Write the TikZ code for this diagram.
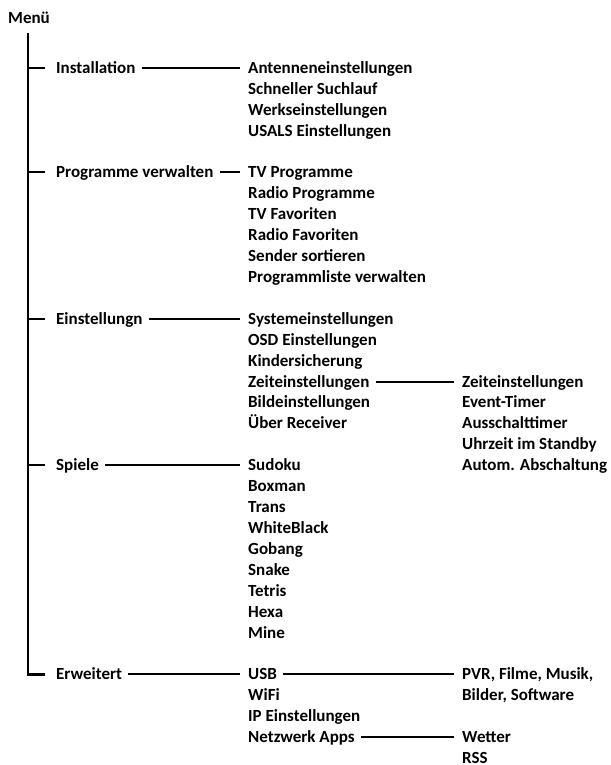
\documentclass[tikz,border=0pt]{standalone}
\usepackage{fontspec}
\setmainfont{Carlito}
\newcommand\rowy[1]{67.8+20.92*#1}
\tikzset{
  lbl/.style={anchor=west, inner xsep=0pt, inner ysep=0pt, text height=10.9pt, text depth=0pt, font=\fontsize{17}{20}\selectfont\bfseries},
  conn/.style={line width=2pt, shorten <=6pt, shorten >=8pt},
  stub/.style={line width=2pt},
  trunk/.style={line width=2.3pt}
}
\begin{document}
\begin{tikzpicture}[x=1pt,y=-1pt]
\useasboundingbox (0,0) rectangle (610,765);
% root
\node[lbl] (menu) at (8,18.5) {Menü};
% level 1
\node[lbl] (inst) at (56,{\rowy{0}}) {Installation};
\node[lbl] (prog) at (56,{\rowy{5}}) {Programme verwalten};
\node[lbl] (einst) at (56,{\rowy{12}}) {Einstellungn};
\node[lbl] (spiele) at (56,{\rowy{19}}) {Spiele};
\node[lbl] (erw) at (56,{\rowy{29}}) {Erweitert};
% level 2: Installation
\node[lbl] (ant) at (248,{\rowy{0}}) {Antenneneinstellungen};
\node[lbl] (such) at (248,{\rowy{1}}) {Schneller Suchlauf};
\node[lbl] (werk) at (248,{\rowy{2}}) {Werkseinstellungen};
\node[lbl] (usals) at (248,{\rowy{3}}) {USALS Einstellungen};
% level 2: Programme
\node[lbl] (tvp) at (248,{\rowy{5}}) {TV Programme};
\node[lbl] (radp) at (248,{\rowy{6}}) {Radio Programme};
\node[lbl] (tvf) at (248,{\rowy{7}}) {TV Favoriten};
\node[lbl] (radf) at (248,{\rowy{8}}) {Radio Favoriten};
\node[lbl] (sort) at (248,{\rowy{9}}) {Sender sortieren};
\node[lbl] (pliste) at (248,{\rowy{10}}) {Programmliste verwalten};
% level 2: Einstellungn
\node[lbl] (sys) at (248,{\rowy{12}}) {Systemeinstellungen};
\node[lbl] (osd) at (248,{\rowy{13}}) {OSD Einstellungen};
\node[lbl] (kind) at (248,{\rowy{14}}) {Kindersicherung};
\node[lbl] (zeit) at (248,{\rowy{15}}) {Zeiteinstellungen};
\node[lbl] (bild) at (248,{\rowy{16}}) {Bildeinstellungen};
\node[lbl] (ueber) at (248,{\rowy{17}}) {Über Receiver};
% level 3: Zeiteinstellungen
\node[lbl] (zeit2) at (462,{\rowy{15}}) {Zeiteinstellungen};
\node[lbl] (event) at (462,{\rowy{16}}) {Event-Timer};
\node[lbl] (aus) at (462,{\rowy{17}}) {Ausschalttimer};
\node[lbl] (uhr) at (462,{\rowy{18}}) {Uhrzeit im Standby};
\node[lbl] (autom) at (462,{\rowy{19}}) {Autom. Abschaltung};
% level 2: Spiele
\node[lbl] (sudoku) at (248,{\rowy{19}}) {Sudoku};
\node[lbl] (boxman) at (248,{\rowy{20}}) {Boxman};
\node[lbl] (trans) at (248,{\rowy{21}}) {Trans};
\node[lbl] (wb) at (248,{\rowy{22}}) {WhiteBlack};
\node[lbl] (gobang) at (248,{\rowy{23}}) {Gobang};
\node[lbl] (snake) at (248,{\rowy{24}}) {Snake};
\node[lbl] (tetris) at (248,{\rowy{25}}) {Tetris};
\node[lbl] (hexa) at (248,{\rowy{26}}) {Hexa};
\node[lbl] (mine) at (248,{\rowy{27}}) {Mine};
% level 2: Erweitert
\node[lbl] (usb) at (248,{\rowy{29}}) {USB};
\node[lbl] (wifi) at (248,{\rowy{30}}) {WiFi};
\node[lbl] (ip) at (248,{\rowy{31}}) {IP Einstellungen};
\node[lbl] (netz) at (248,{\rowy{32}}) {Netzwerk Apps};
% level 3: USB, Netzwerk Apps
\node[lbl] (pvr) at (462,{\rowy{29}}) {PVR, Filme, Musik,};
\node[lbl] (bilder) at (462,{\rowy{30}}) {Bilder, Software};
\node[lbl] (wetter) at (462,{\rowy{32}}) {Wetter};
\node[lbl] (rss) at (462,{\rowy{33}}) {RSS};
% trunk
\coordinate (ttop) at (28,33);
\draw[trunk] (ttop) -- (ttop |- erw.west) -- ([xshift=-11pt]erw.west);
\foreach \n in {inst,prog,einst,spiele}
  \draw[stub] (ttop |- \n.west) -- ([xshift=-11pt]\n.west);
% connectors
\draw[conn] (inst.east) -- (ant.west);
\draw[conn] (prog.east) -- (tvp.west);
\draw[conn] (einst.east) -- (sys.west);
\draw[conn] (spiele.east) -- (sudoku.west);
\draw[conn] (erw.east) -- (usb.west);
\draw[conn] (zeit.east) -- (zeit2.west);
\draw[conn] (usb.east) -- (pvr.west);
\draw[conn] (netz.east) -- (wetter.west);
\end{tikzpicture}
\end{document}
